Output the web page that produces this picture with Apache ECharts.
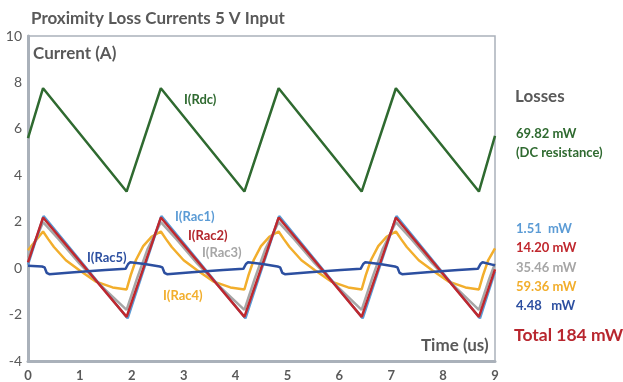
<!DOCTYPE html>
<html>
<head>
<meta charset="utf-8">
<script src="https://cdn.jsdelivr.net/npm/echarts@6/dist/echarts.min.js"></script>
<style>
  html, body { margin: 0; padding: 0; background: #fff; }
  #chart { width: 623px; height: 382px; }
</style>
</head>
<body>
<div id="chart"></div>
<script>
// time (us) / current (A) points
const rdc = [[0,5.6],[0.29,7.75],[1.90,3.3],[2.56,7.75],[4.17,3.3],[4.83,7.75],[6.43,3.3],[7.09,7.75],[8.69,3.3],[9,5.7]]
const rac1 = [[0,0.15],[0.30,2.24],[1.92,-2.16],[2.57,2.24],[4.19,-2.16],[4.84,2.24],[6.45,-2.16],[7.10,2.24],[8.71,-2.16],[9,-0.15]]
const rac2 = [[0,0.25],[0.29,2.18],[1.90,-2.1],[2.56,2.18],[4.17,-2.1],[4.83,2.18],[6.43,-2.1],[7.09,2.18],[8.69,-2.1],[9,-0.05]]
const rac3 = [
  [0,0.45],[0.29,1.98],[0.59,1.25],[0.99,0.2],[1.39,-0.72],[1.90,-1.8],[2.10,-0.45],[2.30,0.8],
  [2.56,1.98],[2.86,1.25],[3.26,0.2],[3.66,-0.72],[4.17,-1.8],[4.37,-0.45],[4.57,0.8],
  [4.83,1.98],[5.13,1.25],[5.53,0.2],[5.93,-0.72],[6.43,-1.8],[6.63,-0.45],[6.83,0.8],
  [7.09,1.98],[7.39,1.25],[7.79,0.2],[8.19,-0.72],[8.69,-1.8],[8.89,-0.45],[9,0.2]
]
const rac4 = [
  [0,0.77],[0.29,1.58],[0.39,1.25],[0.50,0.91],[0.73,0.34],[0.99,-0.09],[1.31,-0.58],[1.63,-0.83],[1.90,-0.92],[1.98,-0.3],[2.08,0.35],[2.22,0.95],[2.38,1.35],
  [2.56,1.58],[2.66,1.25],[2.77,0.91],[3.00,0.34],[3.26,-0.09],[3.58,-0.58],[3.90,-0.83],[4.17,-0.92],[4.25,-0.3],[4.35,0.35],[4.49,0.95],[4.65,1.35],
  [4.83,1.58],[4.93,1.25],[5.04,0.91],[5.27,0.34],[5.53,-0.09],[5.85,-0.58],[6.17,-0.83],[6.43,-0.92],[6.51,-0.3],[6.61,0.35],[6.75,0.95],[6.91,1.35],
  [7.09,1.58],[7.19,1.25],[7.30,0.91],[7.53,0.34],[7.79,-0.09],[8.11,-0.58],[8.43,-0.83],[8.69,-0.92],[8.77,-0.3],[8.87,0.35],[9,0.85]
]
const rac5 = [
  [0,0.1],[0.27,0.07],[0.32,0.03],[0.36,-0.2],[0.41,-0.26],[0.89,-0.18],[1.49,-0.08],[1.88,-0.03],[1.93,0.18],[1.97,0.25],[2.25,0.18],
  [2.54,0.07],[2.59,0.03],[2.63,-0.2],[2.68,-0.26],[3.16,-0.18],[3.76,-0.08],[4.15,-0.03],[4.20,0.18],[4.24,0.25],[4.52,0.18],
  [4.81,0.07],[4.86,0.03],[4.90,-0.2],[4.95,-0.26],[5.43,-0.18],[6.03,-0.08],[6.41,-0.03],[6.46,0.18],[6.50,0.25],[6.78,0.18],
  [7.07,0.07],[7.12,0.03],[7.16,-0.2],[7.21,-0.26],[7.69,-0.18],[8.29,-0.08],[8.67,-0.03],[8.72,0.18],[8.76,0.25],[9,0.12]
]

// loss readouts on the right
const lossLines = [
  { text: '1.51  mW', color: '#5b9bd5' },
  { text: '14.20 mW', color: '#c0282e' },
  { text: '35.46 mW', color: '#a6a6a6' },
  { text: '59.36 mW', color: '#f2ae2c' },
  { text: '4.48   mW', color: '#2c4fa0' }
]

const FONT = 'Lato, "Open Sans", sans-serif'
const GREY = '#595959'

const chart = echarts.init(document.getElementById('chart'))

function line (name, data, color, z) {
  return {
    name, type: 'line', data, z,
    showSymbol: false, smooth: false,
    lineStyle: { color, width: 2.5 },
    itemStyle: { color },
    emphasis: { disabled: true }
  }
}

// x,y = left edge / vertical centre of the text
function txt (x, y, text, color, size) {
  return {
    type: 'text', x, y,
    style: { text, fill: color, font: `bold ${size}px ${FONT}`, align: 'left', verticalAlign: 'middle' }
  }
}

const graphics = [
  txt(31, 19, 'Proximity Loss Currents 5 V Input', GREY, 17),
  txt(33, 54, 'Current (A)', GREY, 17),
  txt(421, 346, 'Time (us)', GREY, 17),
  txt(184, 100, 'I(Rdc)', '#2f6a30', 13),
  txt(175, 217, 'I(Rac1)', '#5b9bd5', 13),
  txt(188, 236, 'I(Rac2)', '#b3262c', 13),
  txt(202, 253, 'I(Rac3)', '#a6a6a6', 13),
  txt(87, 258, 'I(Rac5)', '#2c4fa0', 13),
  txt(163, 296, 'I(Rac4)', '#f2ae2c', 13),
  txt(515, 97, 'Losses', GREY, 17),
  txt(516, 134, '69.82 mW', '#2f6a30', 13),
  txt(516, 153, '(DC resistance)', '#2f6a30', 13),
  txt(514, 335, 'Total 184 mW', '#b8262e', 17.5)
]
lossLines.forEach((l, i) => graphics.push(txt(516, 229 + i * 19.2, l.text, l.color, 13)))

chart.setOption({
  animation: false,
  textStyle: { fontFamily: FONT },
  grid: {
    left: 28, right: 128, top: 36, bottom: 20,
    show: true, borderColor: '#aab1ba', borderWidth: 1.5
  },
  xAxis: {
    type: 'value', min: 0, max: 9, interval: 1,
    axisLine: { show: true, onZero: false, lineStyle: { color: '#aab1ba', width: 3 } },
    axisTick: { show: false },
    splitLine: { show: false },
    axisLabel: { color: GREY, fontSize: 13, fontWeight: 'bold', margin: 8 }
  },
  yAxis: {
    type: 'value', min: -4, max: 10, interval: 2,
    axisLine: { show: true, onZero: false, lineStyle: { color: '#aab1ba', width: 3 } },
    axisTick: { show: false },
    splitLine: { show: false },
    axisLabel: { color: GREY, fontSize: 14, margin: 6 }
  },
  series: [
    line('I(Rdc)', rdc, '#2f6a30', 2),
    line('I(Rac4)', rac4, '#f2ae2c', 3),
    line('I(Rac3)', rac3, '#a6a6a6', 4),
    line('I(Rac1)', rac1, '#5b9bd5', 5),
    line('I(Rac2)', rac2, '#c0282e', 6),
    line('I(Rac5)', rac5, '#2c4fa0', 7)
  ],
  graphic: graphics
})
</script>
</body>
</html>
